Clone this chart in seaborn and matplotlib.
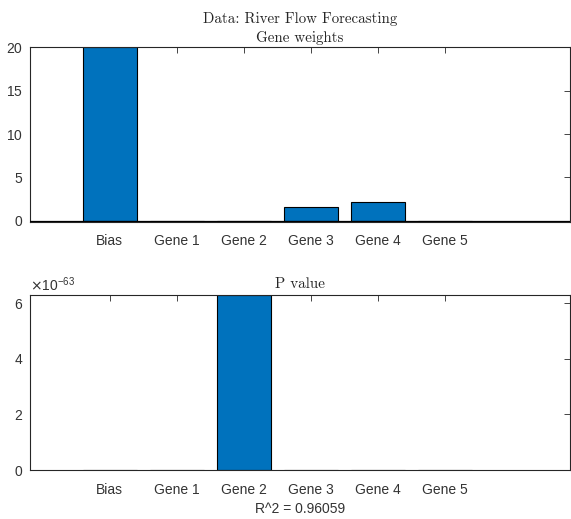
import matplotlib
matplotlib.use("Agg")
import matplotlib.pyplot as plt
import seaborn as sns
import pandas as pd
from matplotlib.ticker import ScalarFormatter

categories = ["Bias", "Gene 1", "Gene 2", "Gene 3", "Gene 4", "Gene 5"]
weights = [20.0, -0.12, 0.0, 1.57, 2.15, -0.08]
pvalues = [0.0, 0.0, 6.3e-63, 0.0, 0.0, 0.0]
r2_text = "R^2 = 0.96059"
main_title = "Data: River Flow Forecasting"

sns.set_style("white")
plt.rcParams['font.family'] = ['Liberation Sans', 'DejaVu Sans']
plt.rcParams['axes.formatter.use_mathtext'] = True

blue = "#0072BD"
txt = "#333333"
fig = plt.figure(figsize=(5.71, 5.19), dpi=100)
ax1 = fig.add_axes([0.0525, 0.5723, 0.946, 0.337])
ax2 = fig.add_axes([0.0525, 0.0944, 0.946, 0.337])

df1 = pd.DataFrame({"cat": categories, "val": weights})
df2 = pd.DataFrame({"cat": categories, "val": pvalues})

for ax, df in ((ax1, df1), (ax2, df2)):
    sns.barplot(data=df, x="cat", y="val", color=blue, saturation=1,
                width=0.8, edgecolor="black", linewidth=0.8, ax=ax)
    ax.set_xlim(-1.19, 6.87)
    ax.set_xlabel("")
    ax.set_ylabel("")
    for s in ax.spines.values():
        s.set_color("#262626")
        s.set_linewidth(0.8)
    ax.tick_params(direction="in", length=4, width=0.6, colors="#262626",
                   top=True, right=True, labelsize=10)
    ax.tick_params(axis="x", pad=9)
    ax.tick_params(axis="y", pad=5)
    for lbl in ax.get_xticklabels() + ax.get_yticklabels():
        lbl.set_color(txt)

ax1.axhline(0, color="black", lw=0.9, zorder=3)
ax1.set_ylim(-0.12, 20)
ax1.set_yticks([0, 5, 10, 15, 20])
ax1.set_title(main_title + "\nGene weights", family="cmr10", fontsize=10.8,
              pad=4, color="#262626", linespacing=1.45)

ax2.set_ylim(0, 6.3e-63)
ax2.set_yticks([0, 2e-63, 4e-63, 6e-63])
fmt = ScalarFormatter(useMathText=True)
fmt.set_powerlimits((0, 0))
ax2.yaxis.set_major_formatter(fmt)
ax2.yaxis.get_offset_text().set_fontsize(10)
ax2.yaxis.get_offset_text().set_color(txt)
ax2.set_title("P value", family="cmr10", fontsize=10.8, pad=5, color="#262626")
ax2.set_xlabel(r2_text, fontsize=10, color=txt, labelpad=4)

fig.savefig("out.png", dpi=100)
